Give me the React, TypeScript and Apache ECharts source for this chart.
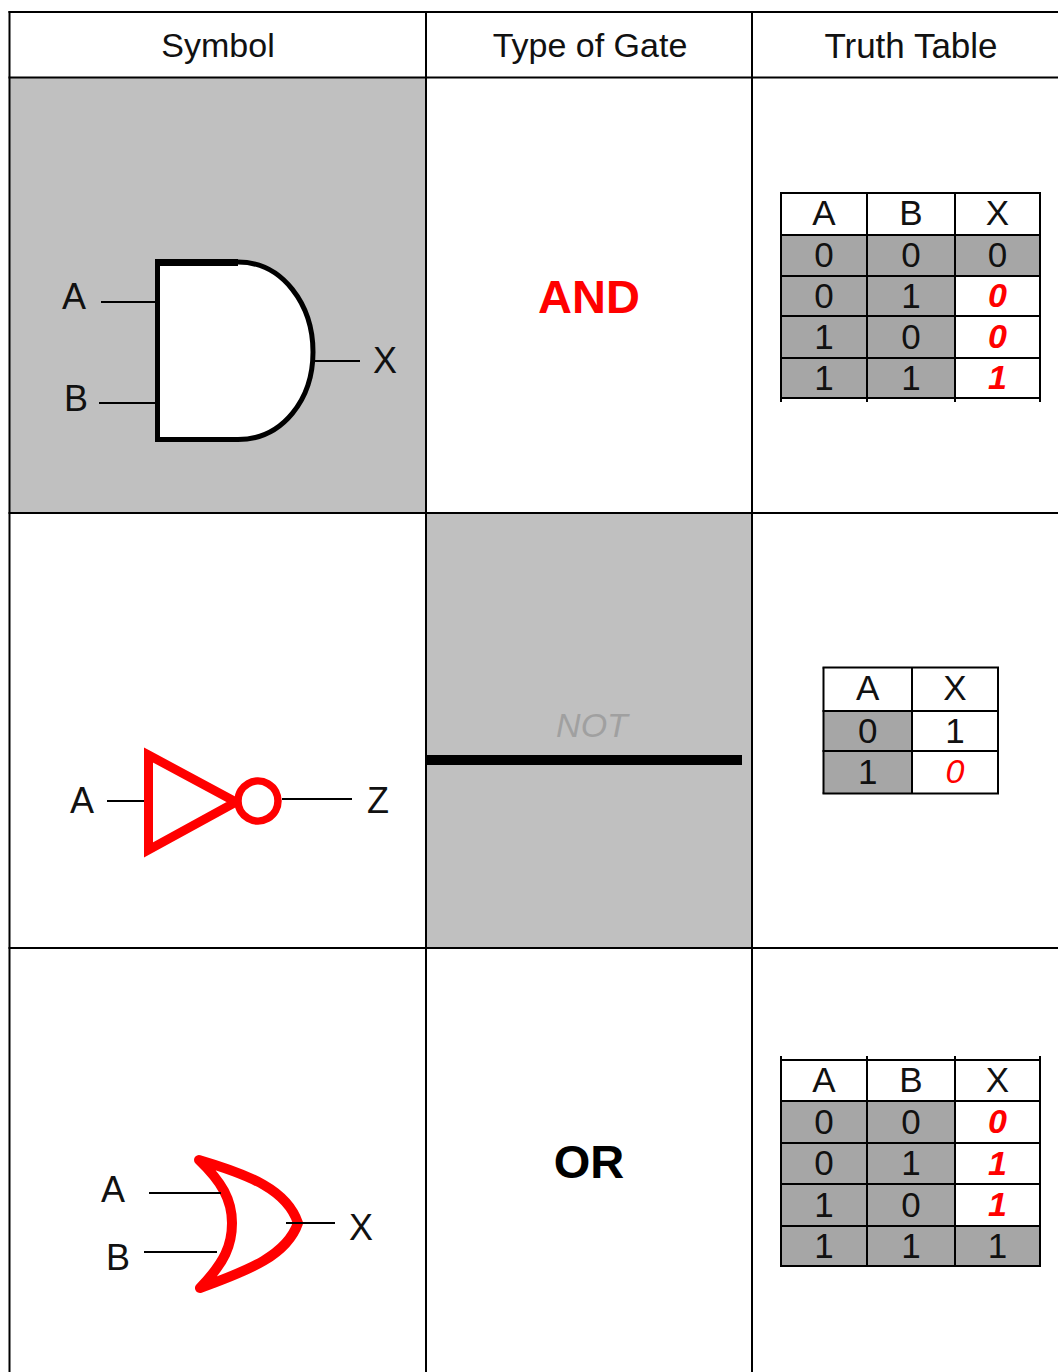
import React, { useEffect, useRef } from "react";
import * as echarts from "echarts";

const headers = ["Symbol", "Type of Gate", "Truth Table"];
const gateNames = ["AND", "NOT", "OR"];
const andColumns = ["A", "B", "X"];
const andRows = [["0", "0", "0"], ["0", "1", "0"], ["1", "0", "0"], ["1", "1", "1"]];
const andHighlighted = [false, true, true, true];
const notColumns = ["A", "X"];
const notRows = [["0", "1"], ["1", "0"]];
const notHighlighted = [false, true];
const orColumns = ["A", "B", "X"];
const orRows = [["0", "0", "0"], ["0", "1", "1"], ["1", "0", "1"], ["1", "1", "1"]];
const orHighlighted = [true, true, true, false];

const SANS = '"Liberation Sans", Arial, sans-serif';
const RED = "#ff0000";
const BLACK = "#000000";
const CELL_GRAY = "#c0c0c0";
const TABLE_GRAY = "#a6a6a6";

const label = (text: string, x: number, y: number, fontSize = 36, extra: any = {}) => ({
  type: "text",
  silent: true,
  style: { text, x, y, align: "center", verticalAlign: "middle", fontFamily: SANS, fontSize, fill: "#111111", ...extra },
});
const seg = (x1: number, y1: number, x2: number, y2: number, lineWidth = 2, stroke = BLACK) => ({
  type: "line",
  silent: true,
  shape: { x1, y1, x2, y2 },
  style: { stroke, lineWidth },
});
const box = (x: number, y: number, width: number, height: number, fill: string) => ({
  type: "rect",
  silent: true,
  shape: { x, y, width, height },
  style: { fill },
});

function truthTable(
  columns: string[],
  rows: string[][],
  highlighted: boolean[],
  xs: number[],
  ys: number[],
  stubTop = 0,
  stubBottom = 0,
  redWeight = "bold",
) {
  const out: any[] = [];
  const last = columns.length - 1;
  rows.forEach((row, r) => {
    row.forEach((_, c) => {
      const lit = c === last && highlighted[r];
      const whiteCell = c === last && (highlighted[r] || (row[c] === "1" && columns.length === 2));
      if (!whiteCell && !lit) out.push(box(xs[c], ys[r + 1], xs[c + 1] - xs[c], ys[r + 2] - ys[r + 1], TABLE_GRAY));
    });
  });
  ys.forEach((y) => out.push(seg(xs[0] - 1, y, xs[xs.length - 1] + 1, y)));
  xs.forEach((x) => out.push(seg(x, ys[0] - stubTop, x, ys[ys.length - 1] + stubBottom)));
  columns.forEach((t, c) => out.push(label(t, (xs[c] + xs[c + 1]) / 2, (ys[0] + ys[1]) / 2 - 1.5, 35)));
  rows.forEach((row, r) => {
    row.forEach((t, c) => {
      const cx = (xs[c] + xs[c + 1]) / 2;
      const cy = (ys[r + 1] + ys[r + 2]) / 2 - 1;
      if (c === last && highlighted[r]) {
        out.push(label(t, cx, cy, 34, { fontStyle: "italic", fontWeight: redWeight, fill: RED }));
      } else {
        out.push(label(t, cx, cy, 35));
      }
    });
  });
  return out;
}

export default function App() {
  const ref = useRef<HTMLDivElement>(null);
  useEffect(() => {
    document.body.style.margin = "0";
    echarts.graphic.registerShape(
      "andBody",
      echarts.graphic.extendPath("M157.5 262 L238 262 C283 262 313 305 313 352 C313 399 283 439.5 238 439.5 L157.5 439.5 Z", {}),
    );
    echarts.graphic.registerShape(
      "orBody",
      echarts.graphic.extendPath("M199 1160 C250 1175 287 1190 298 1223 C287 1255 250 1270 200 1288 C225 1262 232 1245 232 1223 C232 1200 222 1182 199 1160 Z", {}),
    );
    const chart = echarts.init(ref.current!, null, { renderer: "svg" });

    const colX = [9.5, 426, 752, 1058];
    const rowY = [12, 77.5, 513, 948, 1372];
    const elements: any[] = [
      box(0, 0, 1058, 1372, "#ffffff"),
      box(colX[0], rowY[1], colX[1] - colX[0], rowY[2] - rowY[1], CELL_GRAY),
      box(colX[1], rowY[2], colX[2] - colX[1], rowY[3] - rowY[2], CELL_GRAY),
    ];
    // frame
    rowY.slice(0, 4).forEach((y) => elements.push(seg(colX[0] - 1, y, 1058, y)));
    colX.slice(0, 3).forEach((x) => elements.push(seg(x, rowY[0] - 1, x, 1372)));
    // headers
    headers.forEach((t, i) => {
      elements.push(label(t, [218, 590, 911][i], 45, [34, 34, 35][i]));
    });
    // gate names
    elements.push(label(gateNames[0], 589, 296, 47, { fontWeight: "bold", fill: RED }));
    elements.push(label(gateNames[1], 592, 725, 34, { fontStyle: "italic", fill: "#a0a0a0" }));
    elements.push(box(426, 755, 316, 10, BLACK));
    elements.push(label(gateNames[2], 589, 1161, 47, { fontWeight: "bold", fill: BLACK }));

    // AND gate
    elements.push(
      seg(101, 302, 156, 302),
      seg(99, 403, 156, 403),
      seg(314, 361, 360, 361),
      { type: "andBody", silent: true, x: 0, y: 0, style: { fill: "#ffffff", stroke: BLACK, lineWidth: 5 } },
      box(155, 259, 83, 7, BLACK),
      label("A", 74, 296),
      label("B", 76, 398),
      label("X", 385, 360),
    );
    // NOT gate
    elements.push(
      seg(107, 801, 147, 801),
      seg(282, 799, 352, 799),
      {
        type: "polygon",
        silent: true,
        shape: { points: [[148.5, 755], [236, 802], [148.5, 850]] },
        style: { fill: "#ffffff", stroke: RED, lineWidth: 9, lineJoin: "miter" },
      },
      { type: "circle", silent: true, shape: { cx: 258, cy: 801, r: 20 }, style: { fill: "#ffffff", stroke: RED, lineWidth: 7.5 } },
      label("A", 82, 800),
      label("Z", 378, 800),
    );
    // OR gate
    elements.push(
      { type: "orBody", silent: true, x: 0, y: 0, style: { fill: "#ffffff", stroke: RED, lineWidth: 10, lineJoin: "round" } },
      seg(149, 1193, 221, 1193),
      seg(144, 1252, 217, 1252),
      seg(286, 1223, 335, 1223),
      label("A", 113, 1189),
      label("B", 118, 1257),
      label("X", 361, 1227),
    );
    // truth tables
    elements.push(...truthTable(andColumns, andRows, andHighlighted, [781, 867, 955, 1040], [193, 235, 276, 316, 358, 398], 0, 4));
    elements.push(...truthTable(notColumns, notRows, notHighlighted, [823.5, 912, 998], [667.5, 711, 751, 793.5], 0, 0, "normal"));
    elements.push(...truthTable(orColumns, orRows, orHighlighted, [781, 867, 955, 1040], [1060, 1101, 1143, 1184, 1226, 1266], 4, 0));

    chart.setOption({ animation: false, graphic: { elements } });
    return () => chart.dispose();
  }, []);
  return <div ref={ref} style={{ position: "absolute", left: 0, top: 0, width: 1058, height: 1372 }} />;
}
